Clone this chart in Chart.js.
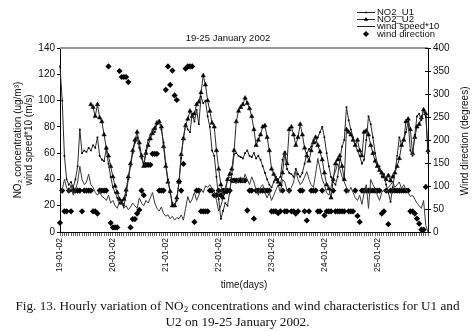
<!DOCTYPE html>
<html>
<head>
<meta charset="utf-8">
<script src="https://cdn.jsdelivr.net/npm/chart.js@4/dist/chart.umd.min.js"></script>
<style>
body{margin:0;background:#fff;}
#wrap{position:relative;width:475px;height:331px;}
#cap{position:absolute;left:0;top:298px;width:475px;text-align:center;font-family:"Liberation Serif","Times New Roman",serif;font-size:13.2px;line-height:16px;color:#111;}
#cap sub{font-size:9px;line-height:0;vertical-align:-2px;}
</style>
</head>
<body>
<div id="wrap">
<canvas id="c" width="475" height="331"></canvas>
<div id="cap">Fig. 13. Hourly variation of NO<sub>2</sub> concentrations and wind characteristics for U1 and<br>U2 on 19-25 January 2002.</div>
</div>
<script>
// days on the category axis, one category per hour
let days = ["19-01-02","20-01-02","21-01-02","22-01-02","23-01-02","24-01-02","25-01-02"];

// NO2 at U1 (ug/m3)
let no2U1 = [126,100,58,40,36,38,34,40,50,78,60,62, 61,64,62,66,64,72,58,55,54,63,52,42,
             34,30,26,22,24,20,28,40,50,60,68,72, 64,56,52,62,70,74,78,76,82,84,78,68,
             52,40,30,22,20,24,38,56,72,82,78,76, 90,84,93,82,103,98,100,88,80,62,58,42,
             25,10,16,22,20,30,44,59,60,58,57,56, 60,62,58,57,60,56,58,55,50,45,40,36,
             34,38,42,40,42,55,61,48,45,44,42,48, 44,42,45,52,60,63,65,70,68,72,76,80,
             72,60,50,42,38,36,42,55,65,70,95,85, 78,72,66,62,58,52,55,70,88,82,72,60,
             52,50,42,44,36,30,23,34,45,58,72,66, 70,76,84,62,58,74,88,90,85,93,88,60];

// NO2 at U2 (ug/m3), no data for the first hours
let no2U2 = [null,null,null,null,null,null,null,null,null,null,null,null, null,null,97,95,88,97,87,84,74,64,58,50,
             42,35,30,25,22,25,32,42,52,62,70,76, 68,58,50,60,66,71,75,79,83,84,80,65,
             50,38,31,20,20,26,38,59,71,81,86,92, 88,90,97,99,106,119,112,100,92,83,80,62,
             48,36,26,30,40,44,48,62,84,92,95,97, 102,98,94,88,78,66,70,74,80,81,72,62,
             48,44,40,38,36,45,60,52,78,80,74,66, 72,82,74,64,58,54,62,68,72,66,61,55,
             45,36,33,26,40,52,55,58,50,40,78,76, 74,70,66,70,62,58,76,77,74,66,60,54,
             50,47,45,42,40,43,39,42,45,50,56,66, 70,84,86,78,60,72,80,82,87,93,90,62];

// wind speed * 10 (m/s)
let windSpeed = [28,32,40,34,30,36,28,32,38,50,40,36, 38,44,36,34,30,28,31,27,26,24,28,22,
                 24,20,18,23,22,18,20,17,19,22,20,18, 26,22,20,24,22,26,30,22,18,16,19,14,
                 12,13,10,12,9,11,10,13,9,18,27,22, 25,30,24,28,33,30,35,34,36,33,31,24,
                 16,20,26,34,39,42,40,38,37,40,42,38, 44,40,36,42,38,32,28,34,36,30,26,30,
                 24,28,32,36,30,40,38,32,30,34,38,46, 40,36,38,42,46,40,36,34,44,56,48,40,
                 36,30,28,34,42,46,52,48,42,38,34,30, 34,30,26,24,28,21,30,36,18,40,36,33,
                 28,24,30,32,31,34,36,38,34,36,38,33, 36,32,30,27,28,25,22,20,18,24,5,0];

// wind direction (degrees)
let windDir = [20,90,45,45,90,45,90,90,90,90,45,90, 90,90,90,45,45,40,90,90,90,90,360,20,
               10,10,10,350,337,337,337,326,10,28,28,40, 48,90,80,146,146,146,170,170,170,90,90,90,
               309,360,320,351,297,287,110,90,148,355,360,360, 360,22,90,90,45,45,45,45,90,90,80,80,
               90,80,90,90,90,90,112,112,112,112,112,112, 112,47,90,90,29,90,90,90,90,90,90,90,
               45,45,45,41,45,90,45,45,90,45,45,40, 45,90,90,45,25,45,90,90,90,45,45,90,
               36,45,45,45,90,45,45,45,45,45,90,45, 45,45,90,35,22,90,90,90,90,90,90,90,
               90,90,40,45,90,17,90,90,90,90,90,90, 90,90,90,45,45,40,29,18,5,5,98,null];

let chartTitle = "19-25 January 2002";
let rightTitle = "Wind direction (degrees)";

let hours = [];
for(let d in days){
    for(let h=0;h<24;h++){
        hours.push(days[d]+" "+h+":00");
    }
}

Chart.defaults.font.family = "'Liberation Sans', Arial, sans-serif";
Chart.defaults.color = "#111";

//title, legend, top border and right axis title drawn by hand
const extras = {
    id: "extras",
    afterDraw(chart){
        const ctx = chart.ctx;
        const a = chart.chartArea;
        ctx.save();
        ctx.strokeStyle = "#9a9a9a";
        ctx.lineWidth = 2;
        ctx.beginPath();
        ctx.moveTo(a.left, a.top);
        ctx.lineTo(a.right, a.top);
        ctx.stroke();

        //inner tick marks on the right axis
        const y1 = chart.scales.y1;
        ctx.strokeStyle = "#000";
        ctx.lineWidth = 1;
        y1.ticks.forEach(t => {
            let py = Math.round(y1.getPixelForValue(t.value)) + 0.5;
            ctx.beginPath();
            ctx.moveTo(a.right - 3, py);
            ctx.lineTo(a.right, py);
            ctx.stroke();
        });

        ctx.fillStyle = "#111";
        ctx.textAlign = "center";
        ctx.textBaseline = "middle";
        ctx.font = "9.5px 'Liberation Sans'";
        ctx.fillText(chartTitle, 228, 38);

        ctx.save();
        ctx.translate(465, 141);
        ctx.rotate(-Math.PI/2);
        ctx.font = "10px 'Liberation Sans'";
        ctx.fillText(rightTitle, 0, 0);
        ctx.restore();

        //legend
        let rows = [12.5, 19.5, 26.5, 34];
        ctx.textAlign = "left";
        ctx.font = "9.5px 'Liberation Sans'";
        chart.data.datasets.forEach((ds, i) => {
            let y = rows[i];
            if(ds.showLine !== false){
                ctx.strokeStyle = "#222";
                ctx.lineWidth = 1;
                ctx.beginPath();
                ctx.moveTo(357, y);
                ctx.lineTo(375, y);
                ctx.stroke();
            }
            if(ds.pointRadius > 0){
                ctx.fillStyle = "#000";
                ctx.strokeStyle = "#000";
                Chart.helpers.drawPoint(ctx, {pointStyle: ds.pointStyle, radius: ds.pointRadius, rotation: 0, borderWidth: 0}, 366, y);
            }
            ctx.fillStyle = "#111";
            ctx.fillText(ds.label, 377, y);
        });
        ctx.restore();
    }
};

let chart = new Chart(document.getElementById("c").getContext("2d"), {
    type: "line",
    data: {
        labels: hours,
        datasets: [
            {label: "NO2_U1", data: no2U1, yAxisID: "y", borderColor: "#2a2a2a", borderWidth: 1,
             pointStyle: "rect", pointRadius: 1.2, pointBackgroundColor: "#000", pointBorderWidth: 0},
            {label: "NO2_U2", data: no2U2, yAxisID: "y", borderColor: "#2a2a2a", borderWidth: 1,
             pointStyle: "triangle", pointRadius: 2.5, pointBackgroundColor: "#000", pointBorderColor: "#000", pointBorderWidth: 0.5},
            {label: "wind speed*10", data: windSpeed, yAxisID: "y", borderColor: "#3a3a3a", borderWidth: 1,
             pointStyle: "line", pointRadius: 0},
            {label: "wind direction", data: windDir, yAxisID: "y1", showLine: false,
             pointStyle: "rectRot", pointRadius: 3.1, pointBackgroundColor: "#000", pointBorderWidth: 0}
        ]
    },
    options: {
        responsive: false,
        animation: false,
        layout: {padding: {left: 0, right: 0, top: 48, bottom: 39}},
        plugins: {legend: {display: false}, tooltip: {enabled: false}},
        scales: {
            x: {
                grid: {drawOnChartArea: false, tickLength: 4, color: "#000", lineWidth: 0.6},
                border: {color: "#000", width: 1},
                ticks: {autoSkip: false, minRotation: 90, maxRotation: 90, padding: 2, font: {size: 8.5},
                    callback: function(val, index){ return index % 24 == 0 ? days[index/24] : ""; }},
                title: {display: true, text: "time(days)", font: {size: 10}, padding: {top: 0, bottom: 1}},
                afterFit: s => { s.height = 60; }
            },
            y: {
                position: "left", min: 0, max: 140,
                ticks: {stepSize: 10, padding: 2, font: {size: 10}},
                grid: {drawOnChartArea: false, tickLength: 3, color: "#000"},
                border: {color: "#000", width: 1},
                title: {display: true, text: ["NO\u2082 concentration (ug/m\u00b3)", "wind speed*10 (m/s)"],
                    font: {size: 10, lineHeight: 1.1}, padding: {top: 12.5, bottom: 0}},
                afterFit: s => { s.width = 60; }
            },
            y1: {
                position: "right", min: 0, max: 400,
                ticks: {stepSize: 50, padding: 2, font: {size: 10}},
                grid: {drawOnChartArea: false, tickLength: 3, color: "#000"},
                border: {color: "#000", width: 1},
                afterFit: s => { s.width = 47; }
            }
        }
    },
    plugins: [extras]
});
</script>
</body>
</html>
